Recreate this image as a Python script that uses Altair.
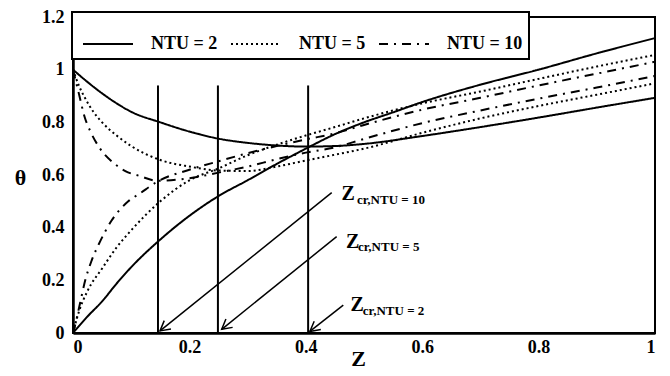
import math
import altair as alt
import pandas as pd

W, H = 582, 316
YMAX = 1.2
FONT = "Liberation Serif"

# ---- curve data ----
# NTU = 2 (solid)
z2_dec = [0, 0.025, 0.05, 0.075, 0.1, 0.15, 0.2, 0.25, 0.3, 0.35, 0.4, 0.45, 0.5, 0.6, 0.7, 0.8, 0.9, 1.0]
t2_dec = [1.0, 0.953, 0.91, 0.872, 0.84, 0.80, 0.765, 0.738, 0.722, 0.712, 0.708, 0.710, 0.718, 0.748, 0.782, 0.818, 0.856, 0.893]
z2_inc = [0, 0.025, 0.05, 0.075, 0.1, 0.15, 0.2, 0.25, 0.3, 0.35, 0.4, 0.45, 0.5, 0.55, 0.6, 0.7, 0.8, 0.9, 1.0]
t2_inc = [0, 0.063, 0.12, 0.188, 0.25, 0.355, 0.445, 0.52, 0.58, 0.642, 0.70, 0.755, 0.80, 0.838, 0.877, 0.943, 1.0, 1.062, 1.12]

# NTU = 5 (dotted)
z5_dec = [0, 0.01, 0.02, 0.035, 0.05, 0.075, 0.1, 0.15, 0.2, 0.25, 0.3, 0.35, 0.4, 0.45, 0.5, 0.6, 0.7, 0.8, 0.9, 1.0]
t5_dec = [1.0, 0.94, 0.895, 0.84, 0.80, 0.75, 0.71, 0.657, 0.632, 0.617, 0.615, 0.632, 0.655, 0.677, 0.70, 0.76, 0.815, 0.862, 0.905, 0.948]
z5_inc = [0, 0.01, 0.025, 0.05, 0.075, 0.1, 0.15, 0.2, 0.25, 0.3, 0.35, 0.4, 0.45, 0.5, 0.6, 0.7, 0.8, 0.9, 1.0]
t5_inc = [0, 0.08, 0.16, 0.245, 0.325, 0.39, 0.50, 0.58, 0.625, 0.675, 0.715, 0.75, 0.782, 0.815, 0.872, 0.917, 0.965, 1.012, 1.056]

# NTU = 10 (dash-dot)
z10_dec = [0, 0.01, 0.02, 0.03, 0.045, 0.07, 0.09, 0.115, 0.145, 0.2, 0.25, 0.3, 0.35, 0.4, 0.45, 0.5, 0.6, 0.7, 0.8, 0.9, 1.0]
t10_dec = [1.0, 0.91, 0.82, 0.765, 0.705, 0.645, 0.615, 0.596, 0.578, 0.588, 0.609, 0.632, 0.66, 0.685, 0.705, 0.737, 0.797, 0.845, 0.89, 0.932, 0.976]
z10_inc = [0, 0.003, 0.012, 0.021, 0.032, 0.046, 0.066, 0.095, 0.115, 0.145, 0.2, 0.25, 0.3, 0.35, 0.4, 0.45, 0.5, 0.6, 0.7, 0.8, 0.9, 1.0]
t10_inc = [0, 0.024, 0.112, 0.2, 0.275, 0.345, 0.426, 0.50, 0.53, 0.575, 0.62, 0.652, 0.683, 0.71, 0.735, 0.758, 0.79, 0.848, 0.893, 0.94, 0.985, 1.03]

ntu_labels = ["NTU = 2", "NTU = 5", "NTU = 10"]
ntu_dash = [[1, 0], [2, 3], [9, 6, 2, 6]]

# critical positions (vertical lines)
z_cr = [0.146, 0.249, 0.404]
z_cr_top = 0.94

# annotation arrows: start (x, y) -> end (x, y)
arrow_x = [0.4445, 0.453, 0.4644]
arrow_y = [0.533, 0.366, 0.106]
arrow_x2 = [0.1495, 0.2555, 0.407]
arrow_y2 = [0.008, 0.014, 0.006]

# annotation labels
lab_main = ["Z", "Z", "Z"]
lab_main_x = [0.4613, 0.469, 0.477]
lab_main_y = [0.506, 0.321, 0.083]
lab_sub = ["cr,NTU = 10", "cr,NTU = 5", "cr,NTU = 2"]
lab_sub_x = [0.488, 0.4897, 0.498]
lab_sub_y = [0.49, 0.313, 0.068]

# ---- build tables ----
rows = []
def add(label, branch, zs, ts):
    for z, t in zip(zs, ts):
        rows.append({"Z": z, "theta": t, "NTU": label, "branch": label + branch})

add("NTU = 2", "d", z2_dec, t2_dec)
add("NTU = 2", "i", z2_inc, t2_inc)
add("NTU = 5", "d", z5_dec, t5_dec)
add("NTU = 5", "i", z5_inc, t5_inc)
add("NTU = 10", "d", z10_dec, t10_dec)
add("NTU = 10", "i", z10_inc, t10_inc)
curves = pd.DataFrame(rows)

vlines = pd.DataFrame({"x": z_cr, "y": [0] * 3, "y2": [z_cr_top] * 3})

arrows = pd.DataFrame({"x": arrow_x, "y": arrow_y, "x2": arrow_x2, "y2": arrow_y2})
angles = []
for x1, y1, x2, y2 in zip(arrow_x, arrow_y, arrow_x2, arrow_y2):
    dx = (x2 - x1) * W
    dy = -(y2 - y1) * H / YMAX
    angles.append(math.degrees(math.atan2(dy, dx)) % 360)
arrows["angle"] = angles

labels_main = pd.DataFrame({"x": lab_main_x, "y": lab_main_y, "t": lab_main})
labels_sub = pd.DataFrame({"x": lab_sub_x, "y": lab_sub_y, "t": lab_sub})

xscale = alt.Scale(domain=[0, 1], nice=False, zero=False)
yscale = alt.Scale(domain=[0, YMAX], nice=False, zero=False)

xaxis = alt.Axis(values=[0, 0.2, 0.4, 0.6, 0.8, 1], format="~g", title="Z",
                 titleX=285, titleY=25, titleBaseline="middle", titleAlign="center")
yaxis = alt.Axis(values=[0, 0.2, 0.4, 0.6, 0.8, 1, 1.2], format="~g", title="θ",
                 titleAngle=0, titleX=-53, titleY=160, titleBaseline="middle",
                 titleAlign="center", titleFontSize=22)

lines = alt.Chart(curves).mark_line(color="black", strokeWidth=2, interpolate="monotone").encode(
    x=alt.X("Z:Q", scale=xscale, axis=xaxis),
    y=alt.Y("theta:Q", scale=yscale, axis=yaxis),
    strokeDash=alt.StrokeDash("NTU:N",
                              scale=alt.Scale(domain=ntu_labels, range=ntu_dash),
                              sort=ntu_labels,
                              legend=alt.Legend(title=None)),
    detail="branch:N",
    order="Z:Q",
)

vrules = alt.Chart(vlines).mark_rule(color="black", strokeWidth=2).encode(
    x="x:Q", y="y:Q", y2="y2:Q"
)

arrow_lines = alt.Chart(arrows).mark_rule(color="black", strokeWidth=1.5).encode(
    x="x:Q", y="y:Q", x2="x2:Q", y2="y2:Q"
)

arrow_heads = alt.Chart(arrows).mark_point(
    shape="M -1 -0.55 L 0 0 L -1 0.55", filled=False, color="black",
    strokeWidth=1.5, size=380, opacity=1
).encode(x="x2:Q", y="y2:Q", angle=alt.Angle("angle:Q", scale=None))

t_main = alt.Chart(labels_main).mark_text(
    font=FONT, fontWeight="bold", fontSize=20, align="left", baseline="alphabetic", color="black"
).encode(x="x:Q", y="y:Q", text="t:N")

t_sub = alt.Chart(labels_sub).mark_text(
    font=FONT, fontWeight="bold", fontSize=13, align="left", baseline="alphabetic", color="black"
).encode(x="x:Q", y="y:Q", text="t:N")

chart = alt.layer(lines, vrules, arrow_lines, arrow_heads, t_main, t_sub).properties(
    width=W, height=H,
    autosize=alt.AutoSizeParams(type="none"),
    padding={"left": 65, "top": 9, "right": 7, "bottom": 40},
).configure_view(
    stroke="black", strokeWidth=2
).configure_axis(
    domainColor="black", domainWidth=2.5, ticks=False, grid=False,
    labelFont=FONT, labelFontWeight="bold", labelFontSize=18, labelColor="black",
    titleFont=FONT, titleFontWeight="bold", titleFontSize=22, titleColor="black",
).configure_axisY(
    labelPadding=9
).configure_axisX(
    labelPadding=5
).configure_legend(
    orient="none", legendX=-1, legendY=-5, direction="horizontal",
    labelFont=FONT, labelFontWeight="bold", labelFontSize=18, labelColor="black",
    symbolType="stroke", symbolSize=2500, symbolStrokeWidth=2, symbolStrokeColor="black",
    strokeColor="black", strokeWidth=2, fillColor="white",
    padding=6, symbolOffset=4, labelOffset=17, columnPadding=8,
)

chart.save("out.html", embed_options={"renderer": "svg", "actions": False})
